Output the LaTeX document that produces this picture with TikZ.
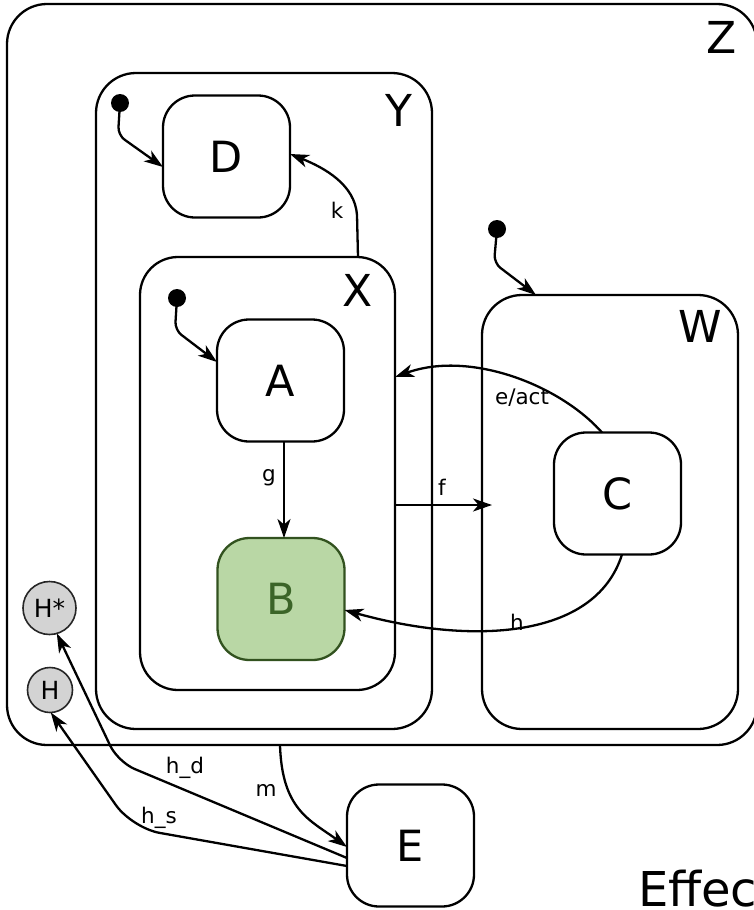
\documentclass[tikz,border=0pt]{standalone}
\usepackage{fontspec}
\setmainfont{DejaVu Sans}
\usetikzlibrary{arrows.meta}
\definecolor{Bfill}{HTML}{B9D7A5}
\definecolor{Bdraw}{HTML}{32521F}
\definecolor{Btext}{HTML}{3B6428}
\definecolor{histgray}{HTML}{D3D3D3}
\begin{document}
\begin{tikzpicture}[x=1pt,y=-1pt,
  every node/.style={inner sep=0pt, outer sep=0pt},
  cbox/.style={draw, line width=2.3pt, rectangle, rounded corners=#1},
  cbox/.default=32pt,
  stbox/.style={cbox=32pt, minimum width=127pt, minimum height=122pt, font=\fontsize{43}{50}\selectfont},
  bigtxt/.style={font=\fontsize{44}{52}\selectfont},
  lbl/.style={font=\fontsize{21.5}{26}\selectfont},
  hist/.style={circle, draw=black!85, line width=1.6pt, fill=histgray, font=\fontsize{25}{30}\selectfont},
  initdot/.style={circle, fill=black, minimum size=18pt},
  arr/.style={-{Stealth[length=19pt,width=13pt,inset=5.5pt]}, line width=2.3pt}
]
\useasboundingbox (0,0) rectangle (754,910);

% containers
\node[cbox=40pt, minimum width=750pt, minimum height=741pt] (Z) at (382,374.5) {};
\node[bigtxt] (Zl) at (722,37) {Z};
\node[cbox=40pt, minimum width=336pt, minimum height=656pt] (Y) at (264,401) {};
\node[bigtxt] (Yl) at (399,110) {Y};
\node[cbox=38pt, minimum width=255pt, minimum height=433pt] (X) at (267.5,473.5) {};
\node[bigtxt] (Xl) at (358,290) {X};
\node[cbox=40pt, minimum width=256pt, minimum height=434pt] (W) at (610,512) {};
\node[bigtxt] (Wl) at (700,326) {W};

% states
\node[stbox] (D) at (226.5,156.5) {D};
\node[stbox] (A) at (280.5,380.5) {A};
\node[stbox, fill=Bfill, draw=Bdraw, text=Btext] (B) at (281,599) {B};
\node[stbox] (C) at (617.5,493.5) {C};
\node[stbox] (E) at (410.5,845.5) {E};

% history
\node[hist, minimum size=53pt] (Hs) at (49.5,608) {H*};
\node[hist, minimum size=45pt] (H) at (50,690) {H};

% initial dots
\node[initdot] (dY) at (120,103) {};
\node[initdot] (dX) at (177,298) {};
\node[initdot] (dW) at (497,229) {};

% initial transitions
\draw[arr, rounded corners=8pt] (dY.center) -- (118,135) -- ([yshift=-10.5pt]D.west);
\draw[arr, rounded corners=8pt] (dX.center) -- (175,330) -- ([yshift=18.5pt]A.west);
\draw[arr, rounded corners=8pt] (dW.center) -- (494,263) -- ([xshift=-74pt]W.north);

% transitions
\draw[arr] ([xshift=90.5pt]X.north) -- (357,215) .. controls (355,185) and (325,168) .. ([yshift=2.5pt]D.east);
\draw[arr] ([xshift=3.5pt]A.south) -- ([xshift=3pt]B.north);
\coordinate (fEnd) at (492,505);
\draw[arr] ([yshift=-31.5pt]X.east) -- (fEnd);
\draw[arr] ([xshift=-15.5pt]C.north) .. controls (560,385) and (470,350) .. ([yshift=96.5pt]X.east);
\draw[arr] ([xshift=4.5pt]C.south) .. controls (595,640) and (470,645) .. ([yshift=-11pt]B.east);
\draw[arr] ([xshift=-102pt]Z.south) .. controls (282,810) and (310,820) .. ([yshift=-1.5pt]E.west);
\draw[arr, rounded corners=18pt] ([yshift=-12.5pt]E.west) -- (118,762) -- (Hs.-74);
\draw[arr, rounded corners=28pt] ([yshift=-20.5pt]E.west) -- (132,828) -- (H.-88);

% labels
\node[lbl] (kl) at (337,210) {k};
\node[lbl] (gl) at (269,478) {g};
\node[lbl] (fl) at (442,487) {f};
\node[lbl] (el) at (522,398) {e/act};
\node[lbl] (hl) at (517,622) {h};
\node[lbl] (ml) at (266,790) {m};
\node[lbl] (hdl) at (185,768) {h\_d};
\node[lbl] (hsl) at (159,818) {h\_s};

\node[anchor=west, font=\fontsize{48}{56}\selectfont] (eff) at (638,889) {Effec};
\end{tikzpicture}
\end{document}
